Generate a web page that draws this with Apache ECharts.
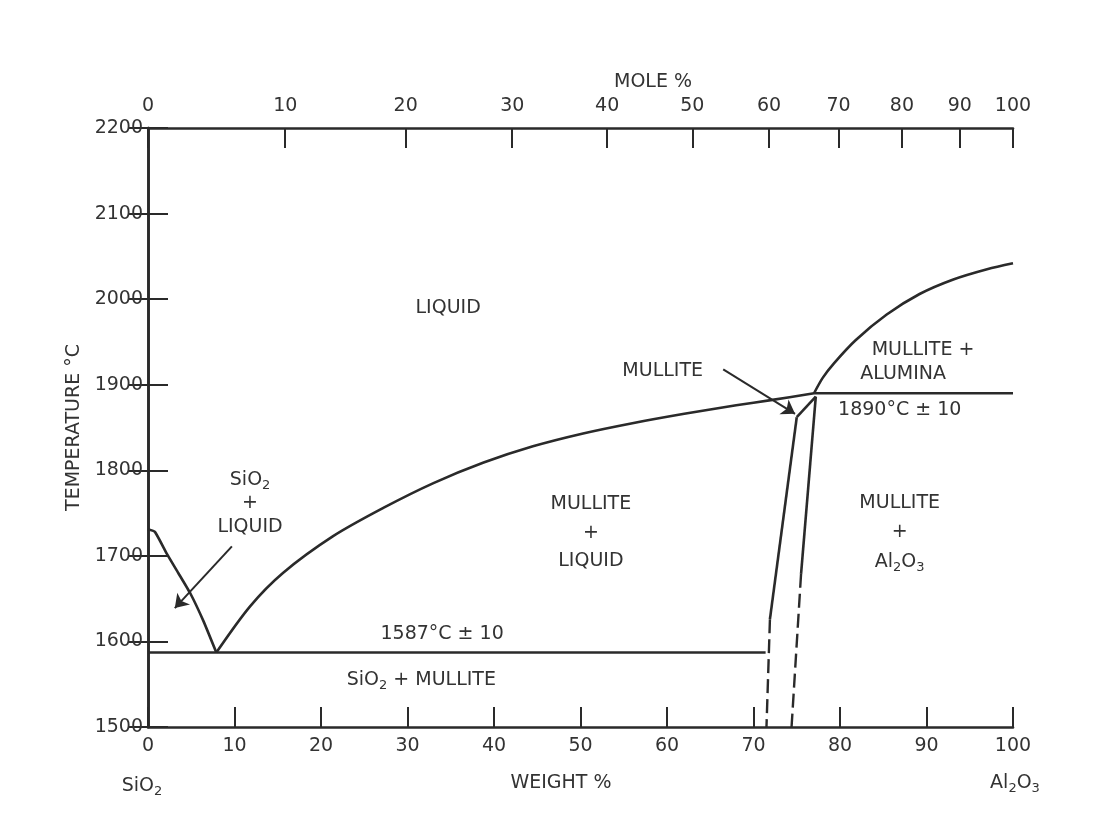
<!DOCTYPE html>
<html>
<head>
<meta charset="utf-8">
<script src="https://cdn.jsdelivr.net/npm/echarts@6/dist/echarts.min.js"></script>
<style>
  html, body { margin: 0; padding: 0; background: #ffffff; }
  #chart { width: 1107px; height: 817px; }
</style>
</head>
<body>
<div id="chart"></div>
<script>
// SiO2 – Al2O3 phase diagram: temperature (°C) against weight % Al2O3,
// with the matching mole % scale along the top edge.

// Top scale: mole % Al2O3 tick values
const moleTicks = [0, 10, 20, 30, 40, 50, 60, 70, 80, 90, 100];
const M_AL2O3 = 101.96;
const M_SIO2 = 60.08;

// Liquidus on the silica-rich side (down to the eutectic)
const silicaLiquidus = [[0, 1731], [0.8, 1728], [2.2, 1702], [3.5, 1680], [4.9, 1656], [6.4, 1624], [7.9, 1587]];
// Liquidus of mullite, eutectic up to the incongruent point
const mulliteLiquidus = [[7.9, 1587], [11.8, 1641], [15.6, 1680], [21.4, 1723], [27.2, 1756],
  [33, 1785], [38.8, 1809], [44.5, 1828], [50.3, 1843], [56, 1855], [62, 1866],
  [68, 1876], [72, 1882], [77, 1890]];
// Liquidus of alumina
const aluminaLiquidus = [[77, 1890], [78, 1908], [79.3, 1925], [81.8, 1952], [85.4, 1982],
  [89.2, 2006], [93.1, 2023], [97, 2035], [100, 2042]];

// Invariant lines
const eutecticLine = [[0, 1587], [71.4, 1587]];
const peritecticLine = [[77, 1890], [100, 1890]];

// Mullite solid-solution field
const mulliteTop = [[75.0, 1862], [77.2, 1886]];
const mulliteLeftSolid = [[75.0, 1862], [71.9, 1626]];
const mulliteLeftDashed = [[71.9, 1626], [71.5, 1500]];
const mulliteRightSolid = [[77.2, 1886], [75.5, 1679]];
const mulliteRightDashed = [[75.5, 1679], [74.4, 1500]];

// Leader arrows
const mulliteArrow = [[66.5, 1918], [74.8, 1866]];
const silicaArrow = [[9.7, 1711], [3.1, 1639]];

// Field labels: [text, weight %, temperature]
const fieldLabels = [
  ['LIQUID', 34.7, 1990],
  ['MULLITE', 59.5, 1916],
  ['MULLITE +', 89.6, 1940],
  ['ALUMINA', 87.3, 1912],
  ['1890°C ± 10', 86.9, 1870],
  ['SiO{s|2}', 11.8, 1789],
  ['+', 11.8, 1762],
  ['LIQUID', 11.8, 1734],
  ['MULLITE', 51.2, 1761],
  ['+', 51.2, 1727],
  ['LIQUID', 51.2, 1694],
  ['MULLITE', 86.9, 1762],
  ['+', 86.9, 1728],
  ['Al{s|2}O{s|3}', 86.9, 1693],
  ['1587°C ± 10', 34, 1609],
  ['SiO{s|2} + MULLITE', 31.6, 1555]
];

function moleToWeight(m) {
  const a = m * M_AL2O3;
  const b = (100 - m) * M_SIO2;
  return 100 * a / (a + b);
}
const moleTickPositions = moleTicks.map(moleToWeight);

const INK = '#2a2a2a';
const TEXT = '#333333';
const FONT = 'DejaVu Sans';
const subRich = { s: { fontSize: 13, padding: [11, 0, 0, 0], fontFamily: FONT, color: TEXT } };

function curve(name, data, opts) {
  return Object.assign({
    name: name,
    type: 'line',
    data: data,
    showSymbol: false,
    symbol: 'none',
    silent: true,
    lineStyle: { color: INK, width: 2.6 },
    z: 3
  }, opts || {});
}

function arrow(coords) {
  return {
    type: 'lines',
    coordinateSystem: 'cartesian2d',
    symbol: ['none', 'arrow'],
    symbolSize: 13,
    silent: true,
    lineStyle: { color: INK, width: 2, opacity: 1 },
    data: [{ coords: coords }],
    z: 4
  };
}

const axisLineStyle = { lineStyle: { color: INK, width: 2.6 } };
const tickStyle = { inside: true, length: 20, lineStyle: { color: INK, width: 2 } };
const labelStyle = { fontFamily: FONT, fontSize: 19, color: TEXT };
const plainNumber = function (v) { return String(v); };

const chart = echarts.init(document.getElementById('chart'), null, { renderer: 'canvas' });

chart.setOption({
  animation: false,
  backgroundColor: '#ffffff',
  grid: { left: 148, right: 94, top: 128, bottom: 90, containLabel: false },
  xAxis: [
    {
      type: 'value', position: 'bottom', min: 0, max: 100, interval: 10,
      axisLine: axisLineStyle, axisTick: tickStyle,
      axisLabel: Object.assign({ margin: 10, formatter: plainNumber }, labelStyle),
      splitLine: { show: false }
    },
    {
      type: 'value', position: 'top', min: 0, max: 100,
      axisLine: axisLineStyle,
      axisTick: Object.assign({ customValues: moleTickPositions }, tickStyle),
      axisLabel: Object.assign({
        margin: 12,
        customValues: moleTickPositions,
        hideOverlap: false,
        formatter: function (v) {
          const i = moleTickPositions.findIndex(function (p) { return Math.abs(p - v) < 1e-6; });
          return i >= 0 ? String(moleTicks[i]) : '';
        }
      }, labelStyle),
      splitLine: { show: false }
    }
  ],
  yAxis: [
    {
      type: 'value', position: 'left', min: 1500, max: 2200, interval: 100,
      axisLine: axisLineStyle, axisTick: tickStyle,
      axisLabel: Object.assign({ margin: 5, formatter: plainNumber }, labelStyle),
      splitLine: { show: false },
      name: 'TEMPERATURE °C', nameLocation: 'middle', nameRotate: 90, nameGap: 56,
      nameTextStyle: { fontFamily: FONT, fontSize: 19, color: TEXT }
    },
    {
      type: 'value', position: 'right', min: 1500, max: 2200, interval: 100,
      axisLine: axisLineStyle, axisTick: tickStyle,
      axisLabel: { show: false },
      splitLine: { show: false }
    }
  ],
  graphic: [
    { type: 'text', x: 653, y: 82, style: { text: 'MOLE %', font: '19px "DejaVu Sans"', fill: TEXT, align: 'center', verticalAlign: 'middle' } },
    { type: 'text', x: 561, y: 783, style: { text: 'WEIGHT %', font: '19px "DejaVu Sans"', fill: TEXT, align: 'center', verticalAlign: 'middle' } },
    { type: 'text', x: 142, y: 786, style: { text: 'SiO{s|2}', font: '19px "DejaVu Sans"', fill: TEXT, align: 'center', verticalAlign: 'middle', rich: { s: { font: '13px "DejaVu Sans"', fill: TEXT, padding: [11, 0, 0, 0] } } } },
    { type: 'text', x: 1015, y: 783, style: { text: 'Al{s|2}O{s|3}', font: '19px "DejaVu Sans"', fill: TEXT, align: 'center', verticalAlign: 'middle', rich: { s: { font: '13px "DejaVu Sans"', fill: TEXT, padding: [11, 0, 0, 0] } } } }
  ],
  series: [
    curve('silicaLiquidus', silicaLiquidus, { smooth: 0.15 }),
    curve('mulliteLiquidus', mulliteLiquidus, { smooth: 0.3 }),
    curve('aluminaLiquidus', aluminaLiquidus, { smooth: 0.3 }),
    curve('eutectic', eutecticLine),
    curve('peritectic', peritecticLine),
    curve('mulliteTop', mulliteTop),
    curve('mulliteLeft', mulliteLeftSolid),
    curve('mulliteLeftDashed', mulliteLeftDashed, { lineStyle: { color: INK, width: 2.4, type: [14, 6] } }),
    curve('mulliteRight', mulliteRightSolid),
    curve('mulliteRightDashed', mulliteRightDashed, { lineStyle: { color: INK, width: 2.4, type: [14, 6] } }),
    arrow(mulliteArrow),
    arrow(silicaArrow),
    {
      name: 'labels',
      type: 'scatter',
      silent: true,
      symbolSize: 1,
      itemStyle: { color: 'rgba(0,0,0,0)', opacity: 1 },
      data: fieldLabels.map(function (d) { return { value: [d[1], d[2]], text: d[0] }; }),
      label: {
        show: true,
        position: 'inside',
        fontFamily: FONT,
        fontSize: 19,
        color: TEXT,
        opacity: 1,
        formatter: function (p) { return p.data.text; },
        rich: subRich
      },
      z: 5
    }
  ]
});
</script>
</body>
</html>
